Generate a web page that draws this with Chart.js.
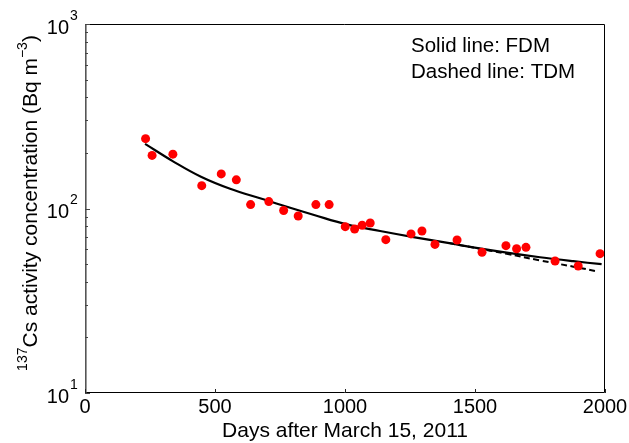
<!DOCTYPE html>
<html>
<head>
<meta charset="utf-8">
<script src="https://cdn.jsdelivr.net/npm/chart.js@4.4.0/dist/chart.umd.min.js"></script>
<style>
html,body{margin:0;padding:0;background:#fff;}
canvas{display:block;}
</style>
</head>
<body>
<canvas id="c" width="629" height="443"></canvas>
<script>
// Observations (red dots)
const obsDays = [233,258,338,449,524,582,637,707,764,820,888,939,1001,1037,1066,1097,1157,1254,1296,1346,1431,1527,1619,1660,1696,1808,1897,1981];
const obsConc = [239,194,197,133,154,143,105,109,97.5,91,105,105,79.7,77.4,81.1,83.4,67.8,72.8,75.5,63.9,67.5,57.9,62.9,60.5,61.6,51.9,48.8,56.9];
// FDM (solid line)
const fdmDays = [231,337,446,558,686,786,878,1007,1135,1263,1401,1493,1622,1750,1878,1987];
const fdmConc = [223.9,180.7,148.6,127.9,112.2,101.2,92.5,82.0,75.5,70.0,64.9,61.5,57.6,54.4,51.8,49.9];
// TDM (dashed line)
const tdmDays = [1401,1493,1622,1750,1878,1975];
const tdmConc = [64.9,61.4,56.8,52.3,48.4,45.5];
// Axis ticks
const xTicks = [0,500,1000,1500,2000];
const yTickExp = [1,2,3];
const legendLines = ["Solid line: FDM","Dashed line: TDM"];
const xTitle = "Days after March 15, 2011";

const pts = (xs, ys) => xs.map((x, i) => ({x: x, y: ys[i]}));
const FONT = '"Liberation Sans", Arial, Helvetica, sans-serif';

const decor = {
  id: 'decor',
  afterDraw(chart) {
    const ctx = chart.ctx, a = chart.chartArea, sx = chart.scales.x, sy = chart.scales.y;
    ctx.save();
    // box
    ctx.strokeStyle = '#000';
    ctx.lineWidth = 1;
    ctx.beginPath();
    ctx.moveTo(a.left, a.top + 0.5); ctx.lineTo(a.right - 0.5, a.top + 0.5);
    ctx.lineTo(a.right - 0.5, a.bottom - 0.5); ctx.lineTo(a.left, a.bottom - 0.5);
    ctx.stroke();
    ctx.strokeStyle = '#555';
    ctx.lineWidth = 1.6;
    ctx.beginPath();
    ctx.moveTo(a.left + 0.8, a.top); ctx.lineTo(a.left + 0.8, a.bottom);
    ctx.stroke();
    // y ticks (major + minor)
    ctx.strokeStyle = '#444';
    ctx.lineWidth = 1;
    for (let e = yTickExp[0]; e <= yTickExp[yTickExp.length - 1]; e++) {
      const base = Math.pow(10, e);
      for (let k = 1; k <= 9; k++) {
        if (e === yTickExp[yTickExp.length - 1] && k > 1) break;
        const py = Math.round(sy.getPixelForValue(base * k)) + 0.5;
        const len = k === 1 ? 5 : 3;
        ctx.beginPath(); ctx.moveTo(a.left, py); ctx.lineTo(a.left + len, py); ctx.stroke();
      }
    }
    // x ticks
    ctx.strokeStyle = '#222';
    xTicks.forEach(v => {
      const px = Math.round(sx.getPixelForValue(v)) + 0.5;
      ctx.beginPath(); ctx.moveTo(px, a.bottom); ctx.lineTo(px, a.bottom - 4); ctx.stroke();
    });
    ctx.fillStyle = '#000';
    // x tick labels
    ctx.font = '20px ' + FONT;
    ctx.textAlign = 'center';
    ctx.textBaseline = 'middle';
    xTicks.forEach(v => {
      ctx.fillText(String(v), sx.getPixelForValue(v), a.bottom + 14);
    });
    // y tick labels 10^n
    yTickExp.forEach(e => {
      const py = sy.getPixelForValue(Math.pow(10, e));
      ctx.font = '20px ' + FONT;
      ctx.textAlign = 'right';
      ctx.textBaseline = 'middle';
      ctx.fillText('10', a.left - 16, py + 4);
      ctx.font = '14px ' + FONT;
      ctx.textAlign = 'left';
      ctx.fillText(String(e), a.left - 15, py - 8);
    });
    // x title
    ctx.font = '21px ' + FONT;
    ctx.textAlign = 'center';
    ctx.textBaseline = 'middle';
    ctx.fillText(xTitle, (a.left + a.right) / 2, 431);
    // legend text
    ctx.textAlign = 'left';
    ctx.font = '20.5px ' + FONT;
    ctx.fillText(legendLines[0], 411, 46);
    ctx.fillText(legendLines[1], 411, 72);
    // y title with superscripts, rotated
    ctx.translate(31, 203);
    ctx.rotate(-Math.PI / 2);
    const parts = [
      {t: '137', f: '14px ', dy: -8},
      {t: 'Cs activity concentration (Bq m', f: '21px ', dy: 0},
      {t: '\u22123', f: '14px ', dy: -8},
      {t: ')', f: '21px ', dy: 0}
    ];
    let total = 0;
    parts.forEach(p => { ctx.font = p.f + FONT; p.w = ctx.measureText(p.t).width; total += p.w; });
    let cx = -total / 2;
    ctx.textAlign = 'left';
    ctx.textBaseline = 'middle';
    parts.forEach(p => { ctx.font = p.f + FONT; ctx.fillText(p.t, cx, p.dy); cx += p.w; });
    ctx.restore();
  }
};

new Chart(document.getElementById('c'), {
  type: 'scatter',
  data: {
    datasets: [
      {
        label: 'TDM', data: pts(tdmDays, tdmConc), showLine: true,
        borderColor: '#000', borderWidth: 2, borderDash: [6, 3.5],
        pointRadius: 0, tension: 0.4, order: 3
      },
      {
        label: 'FDM', data: pts(fdmDays, fdmConc), showLine: true,
        borderColor: '#000', borderWidth: 2.2,
        pointRadius: 0, tension: 0.4, order: 2
      },
      {
        label: 'Observed', data: pts(obsDays, obsConc), showLine: false,
        backgroundColor: '#ff0000', borderWidth: 0, pointRadius: 4.5, order: 1
      }
    ]
  },
  options: {
    responsive: false,
    animation: false,
    layout: {padding: {top: 24, right: 24, left: 0, bottom: 0}},
    plugins: {legend: {display: false}, tooltip: {enabled: false}},
    scales: {
      x: {
        type: 'linear', min: 0, max: 2000,
        ticks: {display: false}, grid: {display: false}, border: {display: false},
        afterFit(s) { s.height = 50; }
      },
      y: {
        type: 'logarithmic', min: 10, max: 1000,
        ticks: {display: false}, grid: {display: false}, border: {display: false},
        afterFit(s) { s.width = 85; }
      }
    }
  },
  plugins: [decor]
});
</script>
</body>
</html>
